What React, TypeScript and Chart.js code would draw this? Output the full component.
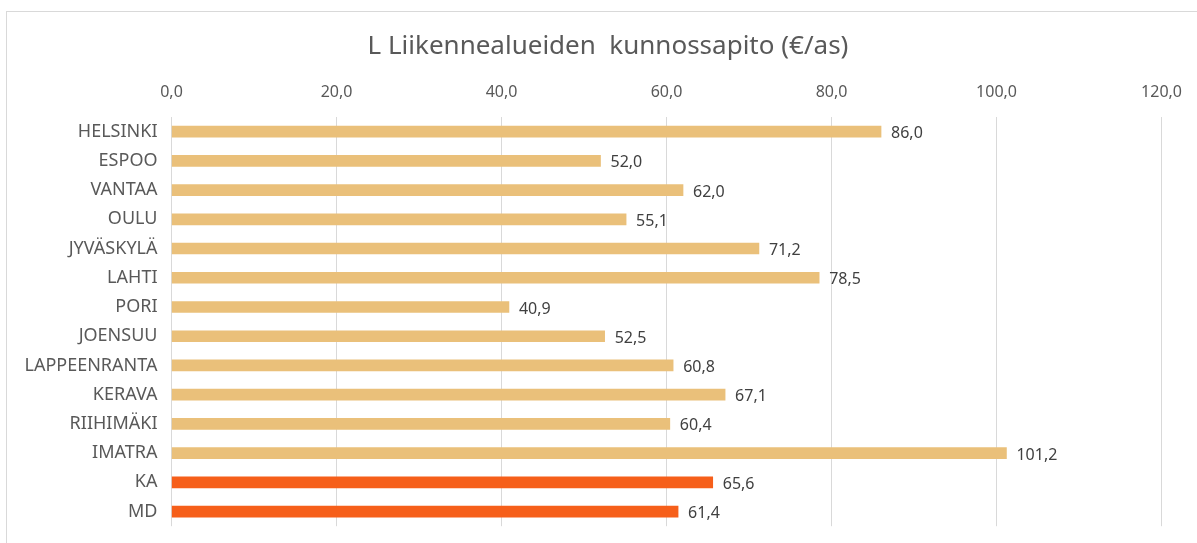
import React, { useEffect, useRef } from "react";
import { Chart, registerables } from "chart.js";

Chart.register(...registerables);

const categories = ["HELSINKI", "ESPOO", "VANTAA", "OULU", "JYVÄSKYLÄ", "LAHTI", "PORI", "JOENSUU", "LAPPEENRANTA", "KERAVA", "RIIHIMÄKI", "IMATRA", "KA", "MD"];
const values = [86.0, 52.0, 62.0, 55.1, 71.2, 78.5, 40.9, 52.5, 60.8, 67.1, 60.4, 101.2, 65.6, 61.4];
const highlighted = ["KA", "MD"];
const titleText = "L Liikennealueiden  kunnossapito (€/as)";

const FONT = "'Noto Sans', 'Open Sans', sans-serif";
const fmt = (v: number) => v.toFixed(1).replace(".", ",");

const labelPlugin = {
  id: "barValueLabels",
  afterDatasetsDraw(chart: any) {
    const ctx = chart.ctx;
    const meta = chart.getDatasetMeta(0);
    ctx.save();
    ctx.font = `16px ${FONT}`;
    ctx.fillStyle = "#404040";
    ctx.textAlign = "left";
    ctx.textBaseline = "middle";
    meta.data.forEach((bar: any, i: number) => {
      ctx.fillText(fmt(values[i]), bar.x + 10, bar.y + 2);
    });
    ctx.restore();
  },
};

const titlePlugin = {
  id: "customTitle",
  afterDraw(chart: any) {
    const ctx = chart.ctx;
    ctx.save();
    ctx.font = `26px ${FONT}`;
    ctx.fillStyle = "#595959";
    ctx.textAlign = "center";
    ctx.textBaseline = "alphabetic";
    ctx.fillText(titleText, 608, 54);
    ctx.restore();
  },
};

export default function App() {
  const ref = useRef<HTMLCanvasElement | null>(null);
  useEffect(() => {
    if (!ref.current) return;
    const chart = new Chart(ref.current, {
      type: "bar",
      data: {
        labels: categories,
        datasets: [
          {
            data: values,
            backgroundColor: categories.map((c) => (highlighted.includes(c) ? "#F65F1A" : "#EAC07A")),
            barThickness: 11,
          },
        ],
      },
      options: {
        indexAxis: "y",
        responsive: false,
        animation: false,
        layout: { padding: { left: 10, right: 27, top: 0, bottom: 16 } },
        plugins: {
          legend: { display: false },
          tooltip: { enabled: false },
          title: { display: false },
        },
        scales: {
          x: {
            position: "top",
            min: 0,
            max: 120,
            ticks: {
              stepSize: 20,
              callback: (v: any) => fmt(Number(v)),
              color: "#595959",
              font: { family: FONT, size: 16 },
              padding: 15,
            },
            grid: { color: "#d9d9d9", lineWidth: 1, drawTicks: false },
            border: { display: false },
            afterFit: (scale: any) => {
              scale.height = 117;
            },
          },
          y: {
            ticks: {
              color: "#595959",
              font: { family: FONT, size: 18 },
              padding: 6,
              autoSkip: false,
            },
            grid: { display: false },
            border: { display: false },
            afterFit: (scale: any) => {
              scale.width = 161.5;
            },
          },
        },
      },
      plugins: [labelPlugin, titlePlugin],
    } as any);
    return () => chart.destroy();
  }, []);

  return (
    <div style={{ position: "fixed", left: 0, top: 0, width: 1197, height: 543, background: "#fff", overflow: "hidden" }}>
      <div style={{ position: "absolute", left: 6, top: 11, width: 1200, height: 540, border: "1px solid #d9d9d9", boxSizing: "border-box" }} />
      <canvas ref={ref} width={1197} height={543} style={{ position: "absolute", left: 0, top: 0 }} />
    </div>
  );
}
